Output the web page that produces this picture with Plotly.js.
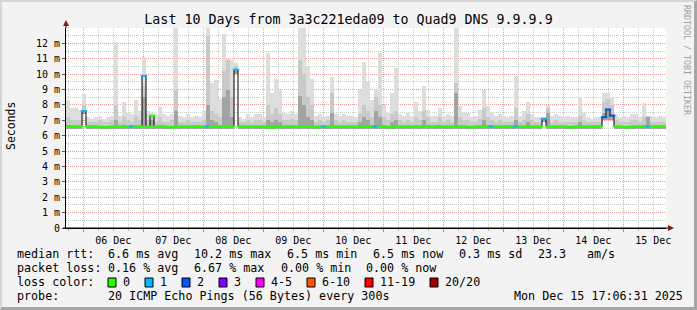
<!DOCTYPE html>
<html><head><meta charset="utf-8">
<script src="https://cdn.plot.ly/plotly-3.0.1.min.js"></script>
<style>
html,body{margin:0;padding:0;background:#f3f3f3;}
#wrap{position:relative;width:697px;height:310px;overflow:hidden;}
#chart{width:697px;height:310px;}
#frame{position:absolute;left:0;top:0;width:697px;height:310px;box-sizing:border-box;border-top:2px solid #d6d6d6;border-left:2px solid #d6d6d6;border-right:3px solid #a6a6a6;border-bottom:3px solid #a6a6a6;pointer-events:none;}
</style></head><body>
<div id="wrap"><div id="chart"></div><div id="frame"></div></div>
<script>
// ---- data (values in milliseconds) ----
const startTime = '2025-12-05 17:06:31';
const endTime = '2025-12-15 17:06:31';
const binMinutes = 96; // 150 bins over 10 days

const smokeMin = [
 6.45,6.45,6.45,6.45,7.4,6.45,6.45,6.45,6.45,6.45,
 6.45,6.45,6.45,6.45,6.45,6.45,6.45,6.45,6.45,6.45,
 6.45,6.45,6.45,6.45,6.45,6.45,6.45,6.45,6.45,6.45,
 6.45,6.45,6.45,6.45,6.45,6.45,6.45,6.45,6.45,6.45,
 6.45,6.45,10.0,6.45,6.45,6.45,6.45,6.45,6.45,6.45,
 6.45,6.45,6.45,6.45,6.45,6.45,6.45,6.45,6.45,6.45,
 6.45,6.45,6.45,6.45,6.45,6.45,6.45,6.45,6.45,6.45,
 6.45,6.45,6.45,6.45,6.45,6.45,6.45,6.45,6.45,6.45,
 6.45,6.45,6.45,6.45,6.45,6.45,6.45,6.45,6.45,6.45,
 6.45,6.45,6.45,6.45,6.45,6.45,6.45,6.45,6.45,6.45,
 6.45,6.45,6.45,6.45,6.45,6.45,6.45,6.45,6.45,6.45,
 6.45,6.45,6.45,6.45,6.45,6.45,6.45,6.45,6.45,6.9,
 6.45,6.45,6.45,6.45,6.45,6.45,6.45,6.45,6.45,6.45,
 6.45,6.45,6.45,6.45,7.0,7.0,7.0,6.45,6.45,6.45,
 6.45,6.45,6.45,6.45,6.45,6.45,6.45,6.45,6.45,6.45
];
const smokeLight = [
 8.3,7.8,7.8,7.7,8.7,7.2,7.1,7.2,7.3,7.1,
 7.2,7.3,12.1,7.3,8.2,7.5,7.4,8.3,7.6,11.1,
 7.6,7.5,7.4,7.85,7.4,7.3,7.4,13,7.3,7.2,
 7.4,7.2,7.3,7.2,7.6,13,9.4,9.6,8.4,12.6,
 11.0,10.9,10.7,7.2,7.1,7.4,7.2,7.4,7.4,7.2,
 11.4,8.8,9.7,9.0,7.5,7.4,7.6,7.4,13,13,
 10.5,9.7,7.3,7.4,7.2,7.3,9.8,7.4,7.3,7.4,
 7.3,7.3,7.2,9.0,10.8,9.5,8.3,9.0,11.4,8.0,
 7.5,8.8,10.4,7.4,7.3,7.5,7.3,8.2,7.6,9.2,
 7.7,7.3,7.3,7.8,7.3,7.4,7.3,13,7.9,7.5,
 7.5,7.2,7.3,7.7,9.0,7.9,7.5,7.3,7.4,7.3,
 7.2,7.3,9.9,7.3,7.6,8.2,7.4,7.2,7.2,7.2,
 8.0,7.3,7.4,7.3,7.2,7.3,7.2,7.2,8.5,7.5,
 7.2,7.1,7.2,7.2,8.8,8.8,8.5,7.4,7.2,7.3,
 7.2,7.4,7.4,7.2,8.1,7.3,7.3,7.2,7.3,7.2
];
const smokeMid = [
 7.2,7.0,7.0,7.0,8.0,6.9,6.9,6.9,7.0,6.9,
 6.9,7.0,8.0,6.9,7.2,7.0,6.9,7.3,7.0,9.2,
 7.0,7.2,6.9,7.2,6.9,6.9,7.0,9.0,6.9,6.9,
 7.0,6.9,6.9,6.9,7.0,12.5,7.6,7.4,7.2,10.2,
 10.9,8.5,10.5,6.9,6.9,7.0,6.9,7.0,7.0,6.9,
 8.0,7.4,7.8,7.4,7.0,7.0,7.1,7.0,10.9,10.0,
 8.5,8.0,6.9,7.0,6.9,7.0,8.8,7.0,6.9,7.0,
 6.9,6.9,6.9,7.4,8.0,7.6,7.2,8.5,8.0,7.2,
 7.0,7.4,7.6,7.0,6.9,7.0,6.9,7.2,7.0,7.6,
 7.2,6.9,6.9,7.2,6.9,7.0,6.9,9.4,7.2,7.0,
 7.0,6.9,6.9,7.1,7.8,7.2,7.0,6.9,7.0,6.9,
 6.9,6.9,7.8,6.9,7.0,7.4,7.0,6.9,6.9,7.1,
 7.8,6.9,7.0,6.9,6.9,6.9,6.9,6.9,7.3,7.0,
 6.9,6.9,6.9,6.9,8.2,8.4,8.0,7.0,6.9,6.9,
 6.9,7.0,7.0,6.9,7.2,7.3,6.9,6.9,6.9,6.9
];
const smokeDark = [
 6.7,6.6,6.6,6.6,7.7,6.6,6.6,6.6,6.6,6.6,
 6.6,6.6,7.0,6.6,6.7,6.6,6.6,6.7,6.6,8.5,
 6.6,7.0,6.6,6.7,6.6,6.6,6.6,7.6,6.6,6.6,
 6.6,6.6,6.6,6.6,6.6,8.0,7.0,6.9,6.7,8.5,
 9.0,7.2,10.3,6.6,6.6,6.6,6.6,6.6,6.6,6.6,
 7.0,6.9,7.0,6.9,6.6,6.6,6.7,6.6,8.6,8.0,
 7.2,7.0,6.6,6.6,6.6,6.6,7.5,6.6,6.6,6.6,
 6.6,6.6,6.6,6.9,7.2,7.0,6.7,7.6,7.2,6.7,
 6.6,6.9,7.0,6.6,6.6,6.6,6.6,6.7,6.6,7.0,
 6.7,6.6,6.6,6.7,6.6,6.6,6.6,8.8,6.7,6.6,
 6.6,6.6,6.6,6.6,7.0,6.7,6.6,6.6,6.6,6.6,
 6.6,6.6,7.0,6.6,6.6,6.9,6.6,6.6,6.6,7.0,
 7.5,6.6,6.6,6.6,6.6,6.6,6.6,6.6,6.9,6.6,
 6.6,6.6,6.6,6.6,7.5,7.8,7.4,6.6,6.6,6.6,
 6.6,6.6,6.6,6.6,6.7,7.2,6.6,6.6,6.6,6.6
];
const medianRtt = [
 6.6,6.6,6.6,6.6,7.6,6.6,6.6,6.6,6.55,6.55,
 6.55,6.6,6.6,6.6,6.6,6.6,6.6,6.6,6.6,9.9,
 6.6,7.3,6.6,6.6,6.6,6.55,6.55,6.6,6.6,6.6,
 6.6,6.6,6.6,6.6,6.6,6.6,6.6,6.6,6.6,6.6,
 6.6,6.6,10.3,6.6,6.6,6.6,6.6,6.6,6.6,6.6,
 6.55,6.55,6.55,6.6,6.6,6.6,6.6,6.6,6.6,6.6,
 6.6,6.6,6.55,6.6,6.6,6.6,6.6,6.6,6.6,6.6,
 6.6,6.6,6.6,6.6,6.6,6.6,6.6,6.6,6.6,6.6,
 6.55,6.55,6.6,6.6,6.6,6.6,6.6,6.6,6.6,6.6,
 6.6,6.6,6.6,6.6,6.6,6.6,6.6,6.6,6.6,6.6,
 6.55,6.55,6.6,6.6,6.6,6.6,6.6,6.6,6.6,6.6,
 6.6,6.6,6.6,6.6,6.6,6.6,6.6,6.6,6.6,7.1,
 6.6,6.6,6.6,6.6,6.6,6.55,6.55,6.6,6.6,6.6,
 6.6,6.6,6.6,6.6,7.2,7.7,7.3,6.6,6.6,6.55,
 6.55,6.6,6.6,6.6,6.6,6.6,6.6,6.6,6.6,6.6
];
const lossCount = [
 0,0,0,0,1,0,0,0,0,0,
 0,0,0,0,0,0,1,0,0,1,
 0,0,0,0,0,0,0,0,0,0,
 0,0,0,0,0,1,0,0,0,0,
 0,0,1,0,0,0,0,0,0,0,
 0,0,0,0,0,0,0,0,0,0,
 0,0,0,0,1,0,0,0,0,0,
 0,0,0,0,0,0,0,1,0,0,
 0,0,0,0,0,0,0,0,0,0,
 0,0,0,0,0,0,0,0,0,0,
 0,0,0,0,0,0,1,0,0,0,
 0,0,1,0,0,0,0,0,0,1,
 0,0,0,0,0,0,0,0,0,0,
 0,0,0,0,2,2,2,0,0,0,
 0,0,0,0,0,1,0,0,0,0
];
const lossLabels = ['0','1','2','3','4-5','6-10','11-19','20/20'];
const lossColors = ['#26ff00','#00b8ff','#0059ff','#7e00ff','#ff00ff','#ff5500','#ff0000','#a10000'];
const yTickVals = [0,1,2,3,4,5,6,7,8,9,10,11,12];
const yTickText = ['0','1 m','2 m','3 m','4 m','5 m','6 m','7 m','8 m','9 m','10 m','11 m','12 m'];

const statLines = [
 [['median rtt:',16],['6.6 ms avg',107],['10.2 ms max',193],['6.5 ms min',286],['6.5 ms now',372],['0.3 ms sd',458],['23.3',537],['am/s',586]],
 [['packet loss:',16],['0.16 % avg',107],['6.67 % max',193],['0.00 % min',280],['0.00 % now',365]],
 [['loss color:',16]],
 [['probe:',16],['20 ICMP Echo Pings (56 Bytes) every 300s',107],['Mon Dec 15 17:06:31 2025',513]]
];
const lineY = [254,268,282,296];
const lossBoxX = [108,145,182,219,256,307,365,430];

// ---- build ----
const L = 66, T = 28, W = 600, H = 200;
const px2x = p => (p - L) / W;
const py2y = p => (T + H - p) / H;

const binMs = binMinutes * 60000;
const t0 = Date.parse(startTime.replace(' ', 'T') + 'Z');
const fmt = ms => new Date(ms).toISOString().replace('T', ' ').slice(0, 19);
const centers = medianRtt.map((_, i) => fmt(t0 + (i + 0.5) * binMs));

const bar = (top, color) => ({
  type: 'bar', x: centers, base: smokeMin, y: top.map((v, i) => v - smokeMin[i]),
  width: binMs, marker: { color: color, line: { width: 0 } }, hoverinfo: 'skip'
});

const traces = [
  bar(smokeLight, '#dddddd'),
  bar(smokeMid, '#c9c9c9'),
  bar(smokeDark, '#a3a3a3'),
  { type: 'scatter', mode: 'lines', x: centers, y: medianRtt, line: { shape: 'hvh', color: '#000', width: 1 }, hoverinfo: 'skip' },
  { type: 'scatter', mode: 'markers', x: centers, y: medianRtt,
    marker: { symbol: 'line-ew', size: 4.6, line: { width: 2, color: lossCount.map(c => lossColors[c]) } }, hoverinfo: 'skip' }
];

const grid = '1px,1px';
const shapes = [
  { type: 'line', xref: 'paper', yref: 'paper', x0: 0, x1: 0, y0: 1, y1: py2y(22), line: { color: '#000', width: 1 } },
  { type: 'line', xref: 'paper', yref: 'paper', x0: px2x(63), x1: px2x(669), y0: 0, y1: 0, line: { color: '#000', width: 1 } },
  { type: 'path', xref: 'paper', yref: 'paper', path: `M ${px2x(63)} ${py2y(26)} L ${px2x(69)} ${py2y(26)} L ${px2x(66)} ${py2y(20)} Z`, fillcolor: '#8b1a1a', line: { width: 0 } },
  { type: 'path', xref: 'paper', yref: 'paper', path: `M ${px2x(668)} ${py2y(225)} L ${px2x(668)} ${py2y(231)} L ${px2x(674)} ${py2y(228)} Z`, fillcolor: '#8b1a1a', line: { width: 0 } }
];
lossBoxX.forEach((bx, i) => {
  shapes.push({ type: 'rect', xref: 'paper', yref: 'paper', x0: px2x(bx), x1: px2x(bx + 8), y0: py2y(278), y1: py2y(287),
    fillcolor: lossColors[i], line: { color: '#000', width: 1 } });
});

const annotations = [];
const mono = 'DejaVu Sans Mono, monospace';
statLines.forEach((line, li) => {
  line.forEach(([txt, x]) => annotations.push({ xref: 'paper', yref: 'paper', x: px2x(x), y: py2y(lineY[li]), text: txt,
    showarrow: false, xanchor: 'left', yanchor: 'middle', borderpad: 0, font: { family: mono, size: 11.7, color: '#000' } }));
});
lossLabels.forEach((lab, i) => annotations.push({ xref: 'paper', yref: 'paper', x: px2x(lossBoxX[i] + 14), y: py2y(282), text: lab,
  showarrow: false, xanchor: 'left', yanchor: 'middle', borderpad: 0, font: { family: mono, size: 11.7, color: '#000' } }));
annotations.push({ xref: 'paper', yref: 'paper', x: px2x(11), y: py2y(126), text: 'Seconds', textangle: -90,
  showarrow: false, xanchor: 'center', yanchor: 'middle', font: { family: mono, size: 11.5, color: '#000' } });
annotations.push({ xref: 'paper', yref: 'paper', x: px2x(687), y: py2y(60), text: 'RRDTOOL / TOBI OETIKER', textangle: 90,
  showarrow: false, xanchor: 'center', yanchor: 'middle', font: { family: mono, size: 8.3, color: '#a0a0a0' } });

const layout = {
  width: 697, height: 310,
  margin: { l: L, r: 697 - L - W, t: T, b: 310 - T - H, pad: 0 },
  paper_bgcolor: '#f3f3f3', plot_bgcolor: '#ffffff',
  showlegend: false, barmode: 'overlay', bargap: 0,
  font: { family: mono, size: 10, color: '#000' },
  title: { text: 'Last 10 Days from 3a3c221eda09 to Quad9 DNS 9.9.9.9', x: 0.5, xanchor: 'center', xref: 'container',
           y: 1 - 19 / 310, yanchor: 'middle', font: { family: mono, size: 13.3, color: '#000' } },
  xaxis: {
    type: 'date', range: [startTime, endTime], tick0: '2025-12-06', dtick: 86400000, tickformat: '%d %b',
    ticklabelmode: 'period', ticks: 'outside', ticklen: 3, tickcolor: '#e07070',
    showgrid: true, gridcolor: '#eba0a0', griddash: grid, gridwidth: 1,
    showline: true, linecolor: '#000', zeroline: false, fixedrange: true,
    tickfont: { family: mono, size: 10, color: '#000' },
    minor: { tickmode: 'linear', tick0: '2025-12-06', dtick: 21600000, showgrid: true, gridcolor: '#cccccc', griddash: grid,
             ticks: 'outside', ticklen: 2, tickcolor: '#aaaaaa' }
  },
  yaxis: {
    range: [0, 13], tickmode: 'array', tickvals: yTickVals, ticktext: yTickText,
    ticks: 'outside', ticklen: 3, tickcolor: '#555',
    showgrid: true, gridcolor: '#eba0a0', griddash: grid, gridwidth: 1,
    showline: true, linecolor: '#000', zeroline: false, fixedrange: true,
    tickfont: { family: mono, size: 10, color: '#000' },
    minor: { tickmode: 'linear', tick0: 0, dtick: 0.5, showgrid: true, gridcolor: '#cccccc', griddash: grid }
  },
  shapes: shapes, annotations: annotations
};

Plotly.newPlot('chart', traces, layout, { staticPlot: true, displayModeBar: false });
</script></body></html>
